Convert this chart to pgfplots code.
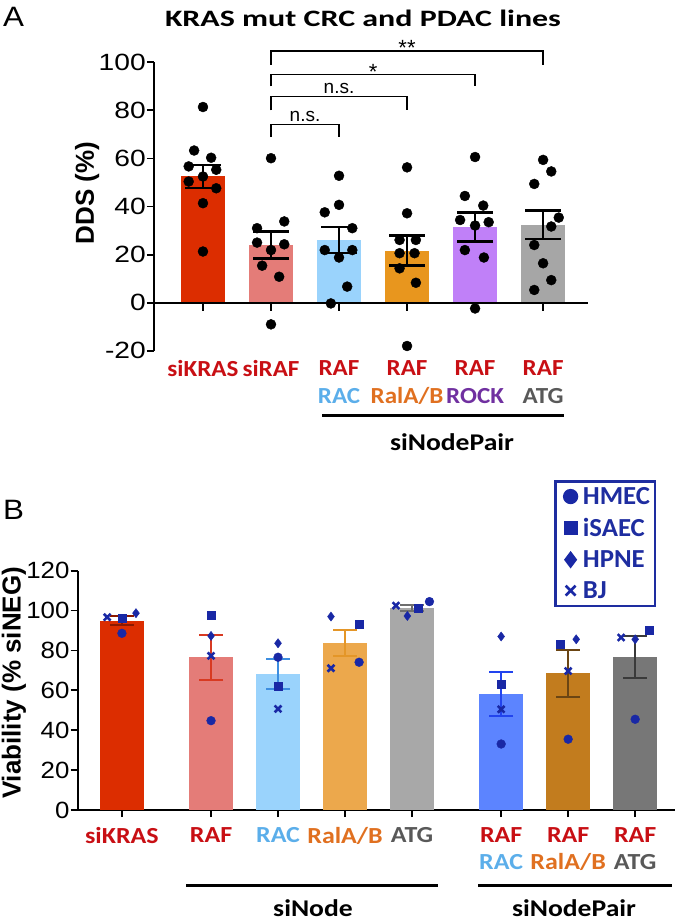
\documentclass[border=0pt]{standalone}
\usepackage{pgfplots}
\pgfplotsset{compat=1.18}
\usepackage{fontspec}
\setmainfont{Liberation Sans}
\newfontfamily\calib{Carlito}
\newfontfamily\arial{Liberation Sans}
\newcommand{\sx}[1]{\scalebox{1.13}[1]{#1}}
\newcommand{\sa}[1]{\scalebox{1.09}[1]{#1}}
\newcommand{\lx}[1]{\scalebox{1.03}[1]{#1}}
% bar colours
\definecolor{bKras}{RGB}{220,45,0}
\definecolor{bRaf}{RGB}{228,124,120}
\definecolor{bRac}{RGB}{154,211,252}
\definecolor{bRal}{RGB}{232,150,30}
\definecolor{bRock}{RGB}{192,128,248}
\definecolor{bAtg}{RGB}{166,166,166}
\definecolor{bRalB}{RGB}{236,168,76}
\definecolor{bAtgB}{RGB}{168,168,168}
\definecolor{bP1}{RGB}{92,132,255}
\definecolor{bP2}{RGB}{194,124,30}
\definecolor{bP3}{RGB}{119,119,119}
% label colours
\definecolor{cRed}{RGB}{200,15,20}
\definecolor{cRac}{RGB}{91,174,234}
\definecolor{cRal}{RGB}{224,112,32}
\definecolor{cRock}{RGB}{112,48,160}
\definecolor{cAtg}{RGB}{89,89,89}
% markers
\definecolor{mk}{RGB}{25,40,165}
\definecolor{legblue}{RGB}{30,45,160}
% error bar colours panel B
\definecolor{eKras}{RGB}{140,25,0}
\definecolor{eRaf}{RGB}{216,58,34}
\definecolor{eRac}{RGB}{61,142,224}
\definecolor{eRal}{RGB}{228,150,40}
\definecolor{eAtg}{RGB}{110,110,110}
\definecolor{eP1}{RGB}{34,68,238}
\definecolor{eP2}{RGB}{107,69,19}
\definecolor{eP3}{RGB}{58,58,58}

\pgfplotsset{
  errA/.style={error bars/.cd, y dir=both, y explicit,
    error bar style={line width=2.6pt,black},
    error mark options={rotate=90, mark size=18pt, line width=2.6pt, black}, /pgfplots/.cd},
  errB/.style={error bars/.cd, y dir=both, y explicit,
    error bar style={line width=2pt,#1},
    error mark options={rotate=90, mark size=12pt, line width=2pt, #1}, /pgfplots/.cd},
  barA/.style={ybar, bar width=0.65, bar shift=0pt, fill=#1, draw=none},
}

\begin{document}
\begin{tikzpicture}
\useasboundingbox (0pt,0pt) rectangle (677pt,922pt);

% panel letters and title
\node[anchor=north west, inner sep=0pt, font=\arial\fontsize{28}{28}\selectfont] at (3pt,915pt) {\scalebox{1.12}[1]{A}};
\node[anchor=north west, inner sep=0pt, font=\arial\fontsize{28}{28}\selectfont] at (3pt,422pt) {\scalebox{1.12}[1]{B}};
\node[inner sep=0pt, font=\calib\bfseries\fontsize{23.5}{23.5}\selectfont] at (363pt,904pt) {\scalebox{1.36}[1]{KRAS mut CRC and PDAC lines}};

%================ Panel A ================
\begin{axis}[
  at={(154pt,571.2pt)}, anchor=south west,
  scale only axis, width=434pt, height=288.5pt,
  xmin=-0.72, xmax=5.66, ymin=-20, ymax=100,
  axis y line*=left, axis x line*=bottom,
  x axis line style={draw=none},
  y axis line style={line width=1.8pt},
  ytick={-20,0,20,40,60,80,100},
  yticklabel={\scalebox{1.2}[1]{\pgfmathprintnumber{\tick}}},
  yticklabel style={font=\arial\fontsize{23.5}{24}\selectfont, inner xsep=0pt, xshift=-1pt},
  /pgf/number format/assume math mode=true,
  major tick length=7pt,
  tick style={line width=1.8pt, black},
  tick align=outside,
  xtick={0,1,2,3,4,5},
  xtick style={draw=none},
  xticklabels={{\sa{\color{cRed}siKRAS}},{\sa{\color{cRed}siRAF}},{\sa{\color{cRed}RAF}\\\sa{\color{cRac}RAC}},{\sa{\color{cRed}RAF}\\\sa{\color{cRal}RalA/B}},{\sa{\color{cRed}RAF}\\\sa{\color{cRock}ROCK}},{\sa{\color{cRed}RAF}\\\sa{\color{cAtg}ATG}}},
  xticklabel style={font=\calib\bfseries\fontsize{23}{28}\selectfont, align=center, yshift=1pt},
  ylabel={DDS (\%)},
  ylabel style={font=\arial\bfseries\fontsize{26}{26}\selectfont, at={(axis description cs:-0.154,0.547)}, anchor=center},
  clip=false,
]
\addplot[barA=bKras, errA] coordinates {(0,52.5) +- (0,4.8)};
\addplot[barA=bRaf, errA] coordinates {(1,24.0) +- (0,5.7)};
\addplot[barA=bRac, errA] coordinates {(2,26.1) +- (0,5.4)};
\addplot[barA=bRal, errA] coordinates {(3,21.7) +- (0,6.2)};
\addplot[barA=bRock, errA] coordinates {(4,31.4) +- (0,6.0)};
\addplot[barA=bAtg, errA] coordinates {(5,32.4) +- (0,5.9)};
% zero line and ticks
\draw[line width=1.8pt] (axis cs:-0.72,0) -- (axis cs:5.66,0);
\draw[line width=1.8pt] (axis cs:0,0) -- ++(0pt,-8pt);
\draw[line width=1.8pt] (axis cs:1,0) -- ++(0pt,-8pt);
\draw[line width=1.8pt] (axis cs:2,0) -- ++(0pt,-8pt);
\draw[line width=1.8pt] (axis cs:3,0) -- ++(0pt,-8pt);
\draw[line width=1.8pt] (axis cs:4,0) -- ++(0pt,-8pt);
\draw[line width=1.8pt] (axis cs:5,0) -- ++(0pt,-8pt);
% individual cell lines
\addplot[only marks, mark=*, mark size=5pt, black] coordinates {
 (0,81.4) (-0.13,63.3) (0.12,60.3) (-0.21,56.7) (0.195,55.3) (0,52.5) (-0.21,50.4) (0.195,47.6) (0,41.4) (0,21.3)
 (1,60.1) (1.195,33.8) (0.795,31.0) (0.795,25.0) (1.195,24.3) (1,21.9) (0.87,15.4) (1.12,10.8) (1,-9.0)
 (2,52.8) (2,40.7) (1.79,37.6) (2.195,31.0) (1.79,21.9) (2.195,21.9) (2,18.8) (2.12,6.7) (1.88,-0.3)
 (3,56.3) (3,37.2) (2.89,26.1) (3.13,26.1) (2.89,20.6) (3.11,20.6) (2.89,14.3) (3.13,8.3) (3,-18.0)
 (4,60.6) (3.85,44.4) (4.12,40.4) (3.78,34.4) (4.2,33.5) (4,32.1) (3.85,21.9) (4.13,18.8) (4,-2.4)
 (5,59.4) (5.12,54.6) (4.87,49.4) (5.23,35.4) (5.12,31.7) (4.87,24.0) (5,16.4) (5.12,9.4) (4.87,5.3)
};
% significance brackets
\draw[line width=1.3pt] (axis cs:1,68.9) -- (axis cs:1,74.2) -- (axis cs:2,74.2) -- (axis cs:2,68.9);
\draw[line width=1.3pt] (axis cs:1,80) -- (axis cs:1,85.7) -- (axis cs:3,85.7) -- (axis cs:3,80);
\draw[line width=1.3pt] (axis cs:1,90) -- (axis cs:1,95.0) -- (axis cs:4,95.0) -- (axis cs:4,90);
\draw[line width=1.3pt] (axis cs:1,99) -- (axis cs:1,104.7) -- (axis cs:5,104.7) -- (axis cs:5,99);
\node[anchor=base, inner sep=0pt, font=\arial\fontsize{19}{19}\selectfont] at (axis cs:1.5,75.4) {n.s.};
\node[anchor=base, inner sep=0pt, font=\arial\fontsize{19}{19}\selectfont] at (axis cs:2,86.9) {n.s.};
\node[anchor=base, inner sep=0pt, font=\arial\fontsize{22}{22}\selectfont] at (axis cs:2.5,93.0) {*};
\node[anchor=base, inner sep=0pt, font=\arial\fontsize{22}{22}\selectfont] at (axis cs:3,102.7) {**};
\end{axis}

\draw[line width=3pt] (322pt,506pt) -- (564pt,506pt);
\node[inner sep=0pt, font=\calib\bfseries\fontsize{24}{24}\selectfont] at (452pt,480pt) {\scalebox{1.15}[1]{siNodePair}};

%================ Panel B ================
\begin{axis}[
  at={(77.7pt,112pt)}, anchor=south west,
  scale only axis, width=597pt, height=239.3pt,
  xmin=-0.66, xmax=8.25, ymin=0, ymax=120,
  axis lines*=left,
  axis line style={line width=1.8pt},
  ytick={0,20,40,60,80,100,120},
  yticklabel={\scalebox{1.1}[1]{\pgfmathprintnumber{\tick}}},
  yticklabel style={font=\arial\fontsize{23.5}{24}\selectfont, inner xsep=0pt, xshift=-1pt},
  /pgf/number format/assume math mode=true,
  major tick length=7pt,
  tick style={line width=1.8pt, black},
  tick align=outside,
  xtick={0,1.33,2.33,3.33,4.33,5.66,6.66,7.66},
  xticklabels={{\sx{\color{cRed}siKRAS}},{\sx{\color{cRed}RAF}},{\sx{\color{cRac}RAC}},{\sx{\color{cRal}RalA/B}},{\sx{\color{cAtg}ATG}},{\sx{\color{cRed}RAF}\\\sx{\color{cRac}RAC}},{\sx{\color{cRed}RAF}\\\sx{\color{cRal}RalA/B}},{\sx{\color{cRed}RAF}\\\sx{\color{cAtg}ATG}}},
  xticklabel style={font=\calib\bfseries\fontsize{23}{27}\selectfont, align=center, yshift=-7pt},
  ylabel={Viability (\% siNEG)},
  ylabel style={font=\arial\bfseries\fontsize{26}{26}\selectfont, at={(axis description cs:-0.107,0.531)}, anchor=center},
  clip=false,
  legend style={at={(0.798,1.379)}, anchor=north west, draw=legblue, line width=2.5pt,
    font=\calib\bfseries\fontsize{26}{26}\selectfont, text=legblue, row sep=8.5pt,
    inner xsep=3pt, inner ysep=4pt, cells={anchor=west, inner xsep=1pt}},
  legend image code/.code={\path (0pt,0pt) (20pt,0pt); \draw[#1, every mark/.append style={scale=1.45}] plot coordinates {(11pt,0pt)};},
]
\addplot[forget plot, barA=bKras, errB=eKras] coordinates {(0,95.0) +- (0,2.3)};
\addplot[forget plot, barA=bRaf, errB=eRaf] coordinates {(1.33,76.6) +- (0,11.2)};
\addplot[forget plot, barA=bRac, errB=eRac] coordinates {(2.33,68.1) +- (0,7.5)};
\addplot[forget plot, barA=bRalB, errB=eRal] coordinates {(3.33,83.6) +- (0,6.6)};
\addplot[forget plot, barA=bAtgB, errB=eAtg] coordinates {(4.33,101.2) +- (0,1.6)};
\addplot[forget plot, barA=bP1, errB=eP1] coordinates {(5.66,58.2) +- (0,11.2)};
\addplot[forget plot, barA=bP2, errB=eP2] coordinates {(6.66,68.6) +- (0,11.7)};
\addplot[forget plot, barA=bP3, errB=eP3] coordinates {(7.66,76.6) +- (0,10.5)};
% HMEC
\addplot[only marks, mark=*, mark size=4.4pt, color=mk] coordinates {
 (0,88.6) (1.33,44.8) (2.33,76.6) (3.54,74.1) (4.59,104.5) (5.66,33.1) (6.66,35.5) (7.66,45.5)};
\addlegendentry{\lx{HMEC}}
% iSAEC
\addplot[only marks, mark=square*, mark size=4pt, color=mk] coordinates {
 (0,96.2) (1.33,97.7) (2.33,61.9) (3.54,93.1) (4.42,101.2) (5.66,63.0) (6.54,83.3) (7.87,90.0)};
\addlegendentry{\lx{iSAEC}}
% HPNE
\addplot[only marks, mark=diamond*, mark size=4.6pt, color=mk] coordinates {
 (0.21,98.7) (1.33,87.3) (2.33,83.6) (3.12,97.0) (4.26,97.3) (5.66,87.0) (6.78,85.6) (7.66,85.6)};
\addlegendentry{\lx{HPNE}}
% BJ
\addplot[only marks, mark=x, mark size=4.8pt, color=mk, mark options={line width=2.6pt}] coordinates {
 (-0.22,96.7) (1.33,77.3) (2.33,50.7) (3.12,71.1) (4.09,102.5) (5.66,50.5) (6.66,69.7) (7.45,86.5)};
\addlegendentry{\lx{BJ}}
\end{axis}

\draw[line width=3pt] (186pt,36pt) -- (438pt,36pt);
\draw[line width=3pt] (478pt,36pt) -- (672pt,36pt);
\node[inner sep=0pt, font=\calib\bfseries\fontsize{24}{24}\selectfont] at (313pt,14pt) {\scalebox{1.15}[1]{siNode}};
\node[inner sep=0pt, font=\calib\bfseries\fontsize{24}{24}\selectfont] at (574pt,14pt) {\scalebox{1.15}[1]{siNodePair}};
\end{tikzpicture}
\end{document}
